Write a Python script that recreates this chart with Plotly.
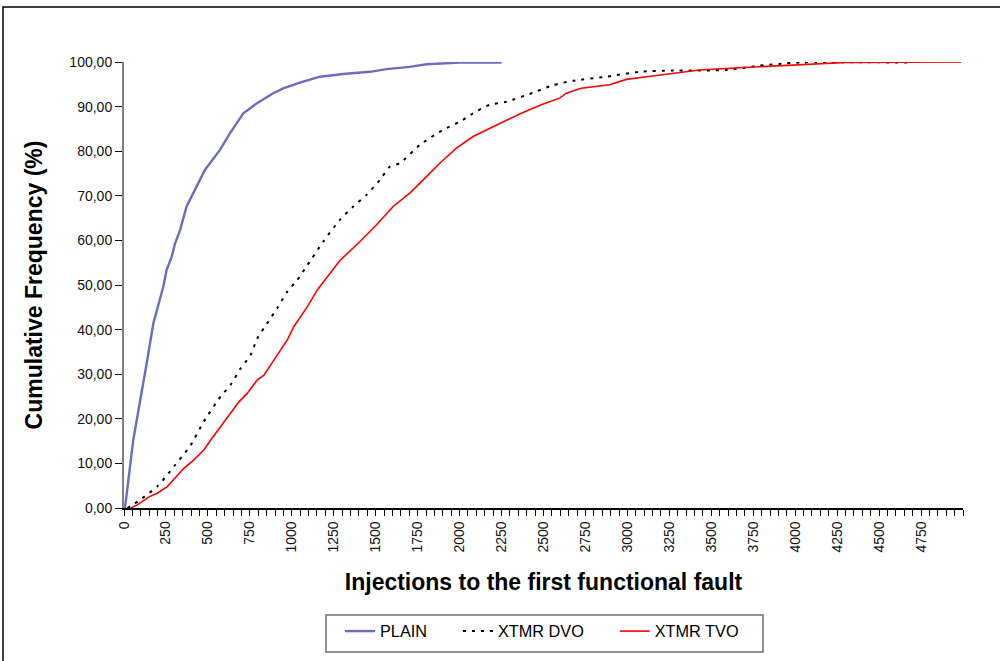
import plotly.graph_objects as go

# ---- data ----
plain_x = [0, 6, 55, 105, 135, 175, 205, 234, 254, 284, 304, 334, 373, 423, 482, 572,
           631, 711, 790, 889, 949, 1048, 1167, 1306, 1465, 1564, 1703, 1802, 2001, 2250]
plain_y = [0, 0, 15.2, 25.7, 32.4, 41.4, 45.9, 49.6, 53.4, 56.3, 59.3, 62.3, 67.6, 71.3, 75.8, 80.3,
           84.0, 88.5, 90.7, 93.0, 94.1, 95.4, 96.7, 97.3, 97.8, 98.4, 98.9, 99.5, 99.85, 99.9]

dvo_x = [20, 60, 109, 198, 298, 397, 476, 576, 635, 695, 754, 794, 853, 913, 973, 1032, 1085,
         1187, 1286, 1366, 1445, 1524, 1584, 1643, 1763, 1901, 2001, 2080, 2179, 2279, 2437,
         2556, 2676, 2854, 3073, 3271, 3589, 3787, 3946, 4045, 4680]
dvo_y = [0, 0.9, 2.2, 4.8, 9.3, 14.1, 19.4, 25.0, 27.6, 31.3, 34.3, 38.0, 41.4, 44.8, 48.5, 51.1, 54.0,
         59.7, 64.6, 67.6, 70.2, 73.5, 76.5, 77.3, 81.4, 84.8, 86.6, 88.5, 90.4, 91.1, 93.1,
         94.8, 95.8, 96.6, 97.8, 98.1, 98.2, 99.2, 99.7, 99.9, 99.9]

tvo_x = [40, 79, 149, 198, 258, 357, 417, 476, 516, 576, 635, 685, 734, 794, 834, 913, 973, 1013,
         1092, 1152, 1211, 1284, 1405, 1505, 1604, 1703, 1782, 1882, 1981, 2080, 2199, 2279,
         2368, 2487, 2596, 2636, 2725, 2894, 2993, 3162, 3271, 3430, 3668, 3986, 4304, 4990]
tvo_y = [0, 0.7, 2.5, 3.3, 4.8, 8.9, 10.8, 13.0, 15.2, 18.2, 21.2, 23.8, 25.7, 28.7, 29.8, 34.3, 37.7, 40.7,
         45.1, 48.9, 51.9, 55.4, 59.7, 63.5, 67.6, 70.6, 73.5, 77.3, 80.7, 83.3, 85.5, 87.0,
         88.5, 90.4, 91.9, 93.0, 94.1, 94.9, 96.1, 96.9, 97.4, 98.2, 98.7, 99.3, 99.9, 100]

series_names = ["PLAIN", "XTMR DVO", "XTMR TVO"]

x_tick_vals = list(range(0, 5000, 250))
x_tick_text = [str(v) for v in x_tick_vals]
y_tick_vals = list(range(0, 101, 10))
y_tick_text = [f"{v},00" for v in y_tick_vals]

FONT = "Arial, Liberation Sans, sans-serif"
PAD = "\u00a0" * 5 + "\u2009"  # extra spacing after legend entries

fig = go.Figure()
fig.add_trace(go.Scatter(x=plain_x, y=plain_y, mode="lines", name=series_names[0] + PAD,
                         line=dict(color="#6C6CC0", width=2.4)))
fig.add_trace(go.Scatter(x=dvo_x, y=dvo_y, mode="lines", name=series_names[1] + PAD,
                         line=dict(color="#000000", width=2, dash="3px,6px", shape="spline", smoothing=0.6)))
fig.add_trace(go.Scatter(x=tvo_x, y=tvo_y, mode="lines", name=series_names[2],
                         line=dict(color="#FF0000", width=1.6)))

L, R, T, B = 124, 37, 62, 153
W, H = 1000, 661
pw, ph = W - L - R, H - T - B

fig.update_layout(
    width=W, height=H,
    margin=dict(l=L, r=R, t=T, b=B),
    paper_bgcolor="white", plot_bgcolor="white",
    font=dict(family=FONT, color="black", size=14),
    showlegend=True,
    legend=dict(orientation="h", x=(340 - L) / pw, xanchor="left",
                y=(H - B - 614) / ph, yanchor="top",
                borderwidth=0, bgcolor="rgba(0,0,0,0)",
                font=dict(size=16.3, family=FONT),
                itemwidth=30),
    xaxis=dict(range=[0, 5000], tickmode="array", tickvals=x_tick_vals, ticktext=x_tick_text,
               tickangle=-90, ticks="outside", ticklen=6, tickcolor="black", tickwidth=1,
               minor=dict(dtick=50, ticks="outside", ticklen=6, tickcolor="black", tickwidth=1),
               showline=True, linecolor="black", linewidth=1.5, showgrid=False, zeroline=False,
               tickfont=dict(size=14, color="#111111"),
               title=dict(text="Injections to the first functional fault",
                          font=dict(size=23, family=FONT, weight="bold"), standoff=22)),
    yaxis=dict(range=[0, 100], tickmode="array", tickvals=y_tick_vals, ticktext=y_tick_text,
               ticks="outside", ticklen=7, tickcolor="black", tickwidth=1,
               showline=True, linecolor="#808080", linewidth=2, showgrid=False, zeroline=False,
               tickfont=dict(size=14, color="#111111"),
               title=dict(text="Cumulative Frequency (%)",
                          font=dict(size=23, family=FONT, weight="bold"), standoff=20)),
)

# outer chart border
fig.add_shape(type="rect", xref="paper", yref="paper",
              x0=(3 - L) / pw, x1=(W + 5 - L) / pw,
              y0=(H - B - (H + 5)) / ph, y1=1 + (T - 7) / ph,
              line=dict(color="black", width=1.5), fillcolor="rgba(0,0,0,0)", layer="below")
# legend frame
fig.add_shape(type="rect", xref="paper", yref="paper",
              x0=(326 - L) / pw, x1=(763 - L) / pw,
              y0=(H - B - 652) / ph, y1=(H - B - 615) / ph,
              line=dict(color="#6E6E6E", width=1.5), fillcolor="rgba(0,0,0,0)", layer="below")

fig.write_html("out.html", config={"displayModeBar": False},
               post_script="document.body.style.margin='0';document.body.style.overflow='hidden';")
